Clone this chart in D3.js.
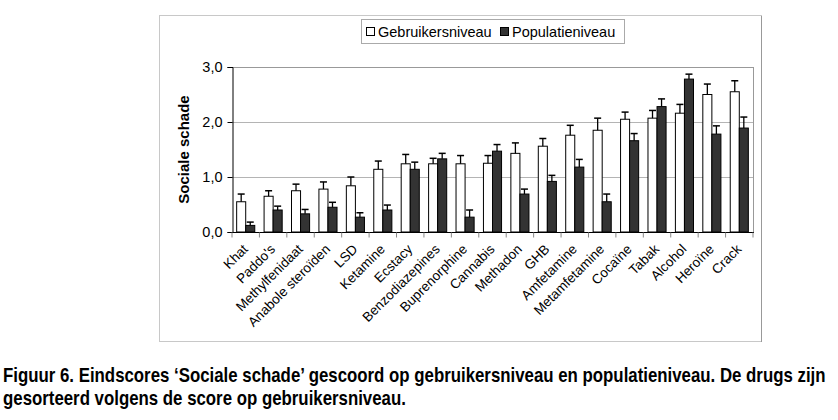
<!DOCTYPE html>
<html><head><meta charset="utf-8">
<script src="https://cdn.jsdelivr.net/npm/d3@7"></script>
<style>body{margin:0;background:#fff}svg{display:block}</style>
</head><body>
<svg id="c" width="838" height="420"></svg>
<script>
const categories = ["Khat","Paddo's","Methylfenidaat","Anabole steroïden","LSD","Ketamine","Ecstacy","Benzodiazepines","Buprenorphine","Cannabis","Methadon","GHB","Amfetamine","Metamfetamine","Cocaïne","Tabak","Alcohol","Heroïne","Crack"];
const gebruikers = [0.55,0.65,0.75,0.78,0.84,1.14,1.24,1.24,1.24,1.25,1.43,1.56,1.76,1.85,2.05,2.07,2.16,2.50,2.55];
const gebruikersErr = [0.69,0.75,0.87,0.91,1.00,1.29,1.41,1.34,1.39,1.39,1.62,1.70,1.94,2.07,2.18,2.21,2.32,2.69,2.75];
const populatie = [0.12,0.40,0.33,0.45,0.27,0.40,1.14,1.33,0.27,1.47,0.69,0.92,1.18,0.55,1.66,2.28,2.78,1.78,1.89];
const populatieErr = [0.18,0.47,0.41,0.54,0.35,0.49,1.27,1.43,0.40,1.59,0.78,1.03,1.32,0.69,1.79,2.42,2.87,1.93,2.09];
const yTicks = [0,1,2,3];
const seriesNames = ["Gebruikersniveau","Populatieniveau"];
const captionLines = ["Figuur 6. Eindscores ‘Sociale schade’ gescoord op gebruikersniveau en populatieniveau. De drugs zijn","gesorteerd volgens de score op gebruikersniveau."];

const svg = d3.select("#c");
const font = "Liberation Sans, Arial, sans-serif";
const L = 232, R = 753, T = 67, B = 232;

// outer frame
svg.append("rect").attr("x",159.5).attr("y",15.5).attr("width",602).attr("height",326)
  .attr("fill","#fff").attr("stroke","#c8c8c8");
svg.append("line").attr("x1",761.5).attr("x2",761.5).attr("y1",16).attr("y2",342).attr("stroke","#999");

const x = d3.scaleBand().domain(categories).range([L,R]).padding(0);
const y = d3.scaleLinear().domain([0,3]).range([B,T]);

// plot border (top/right) and gridlines
const g = svg.append("g");
yTicks.filter(d=>d>0).forEach(d=>{
  g.append("line").attr("x1",L).attr("x2",R).attr("y1",Math.round(y(d))+0.5).attr("y2",Math.round(y(d))+0.5)
   .attr("stroke", d===3 ? "#999" : "#b4b4b4");
});
g.append("line").attr("x1",R+0.5).attr("x2",R+0.5).attr("y1",T).attr("y2",B).attr("stroke","#999");

const bw = x.bandwidth()*0.33;
const cx = d => x(d) + x.bandwidth()/2;

function drawSeries(vals, errs, fill, off){
  const gg = svg.append("g");
  gg.selectAll("rect").data(categories).join("rect")
    .attr("x",(d)=>cx(d)+off).attr("y",(d,i)=>y(vals[i])).attr("width",bw).attr("height",(d,i)=>y(0)-y(vals[i]))
    .attr("fill",fill).attr("stroke","#000").attr("stroke-width",1);
  gg.selectAll("line.e").data(categories).join("line").attr("class","e")
    .attr("x1",d=>cx(d)+off+bw/2).attr("x2",d=>cx(d)+off+bw/2)
    .attr("y1",(d,i)=>y(vals[i])).attr("y2",(d,i)=>y(errs[i])).attr("stroke","#000").attr("stroke-width",1.3);
  gg.selectAll("line.c").data(categories).join("line").attr("class","c")
    .attr("x1",d=>cx(d)+off+bw/2-3.5).attr("x2",d=>cx(d)+off+bw/2+3.5)
    .attr("y1",(d,i)=>y(errs[i])).attr("y2",(d,i)=>y(errs[i])).attr("stroke","#000").attr("stroke-width",1.5);
}
drawSeries(gebruikers, gebruikersErr, "#fff", -bw);
drawSeries(populatie, populatieErr, "#333", 0);

// y axis
const ya = svg.append("g").attr("transform",`translate(${L+0.5},0)`)
  .call(d3.axisLeft(y).tickValues(yTicks).tickSize(5).tickPadding(5).tickFormat(d=>d3.format(".1f")(d).replace(".",",")));
ya.select(".domain").attr("stroke","#000");
ya.selectAll("text").attr("font-family",font).attr("font-size",14.5).attr("fill","#000");

// x axis
const xa = svg.append("g").attr("transform",`translate(0,${B+0.5})`);
xa.append("line").attr("x1",L).attr("x2",R+1).attr("stroke","#000");
xa.selectAll("line.t").data(d3.range(categories.length+1)).join("line").attr("class","t")
  .attr("x1",i=>L+i*x.step()).attr("x2",i=>L+i*x.step()).attr("y1",0).attr("y2",5).attr("stroke","#888");
svg.append("g").selectAll("text").data(categories).join("text")
  .attr("transform",d=>`translate(${cx(d)+3},${B+18}) rotate(-45)`)
  .attr("text-anchor","end").attr("font-family",font).attr("font-size",13.5).text(d=>d);

// y title
svg.append("text").attr("transform",`translate(189,${(T+B)/2}) rotate(-90)`).attr("text-anchor","middle")
  .attr("font-family",font).attr("font-size",15).attr("font-weight","bold").text("Sociale schade");

// legend
const lg = svg.append("g");
lg.append("rect").attr("x",361.5).attr("y",19.5).attr("width",263).attr("height",24).attr("fill","#fff").attr("stroke","#aaa");
const legX = [366, 500];
seriesNames.forEach((n,i)=>{
  lg.append("rect").attr("x",legX[i]+0.5).attr("y",27.5).attr("width",8).attr("height",8)
    .attr("fill", i===0?"#fff":"#333").attr("stroke","#000");
  lg.append("text").attr("x",legX[i]+12).attr("y",37).attr("font-family",font).attr("font-size",14.5).text(n);
});

// caption (condensed bold, like Arial Narrow)
const cap = svg.append("g");
const capTexts = cap.selectAll("text").data(captionLines).join("text")
  .attr("x",0).attr("y",(d,i)=>382+i*23)
  .attr("font-family",font).attr("font-size",19.5).attr("font-weight","bold").text(d=>d);
const w0 = capTexts.nodes()[0].getComputedTextLength();
const sx = 823 / w0;
cap.attr("transform",`translate(3,0) scale(${sx},1)`);
</script>
</body></html>
